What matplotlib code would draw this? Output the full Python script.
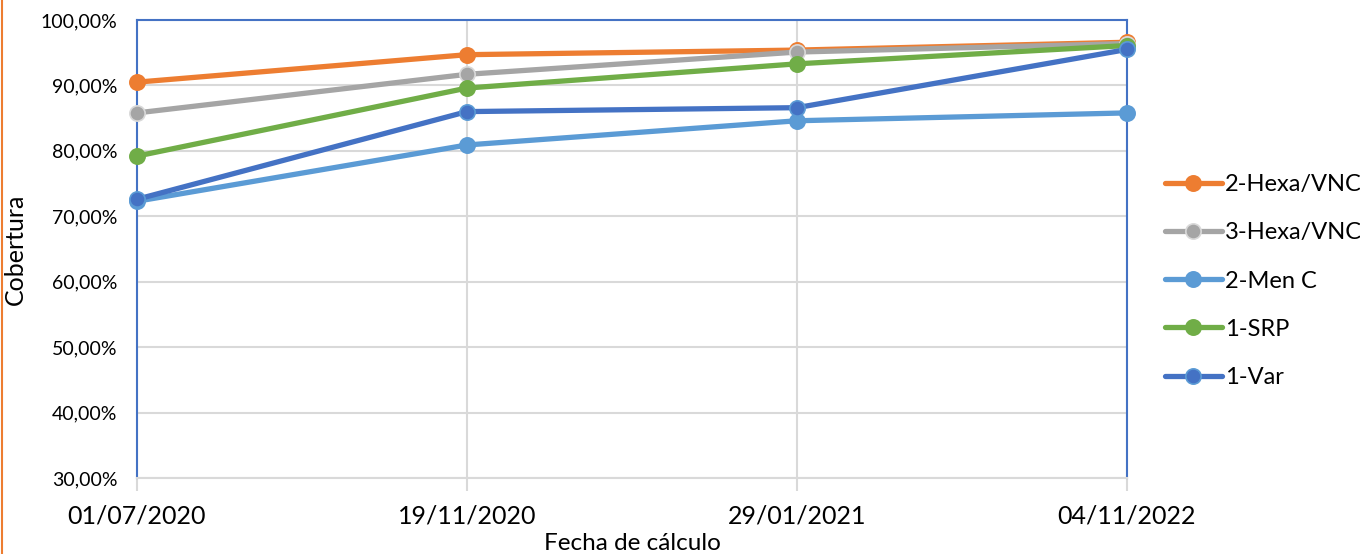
import matplotlib
matplotlib.use("Agg")
import matplotlib.pyplot as plt
from matplotlib.lines import Line2D

plt.rcParams['font.family'] = ['Lato', 'DejaVu Sans']

fechas = ["01/07/2020", "19/11/2020", "29/01/2021", "04/11/2022"]
series = ["2-Hexa/VNC", "3-Hexa/VNC", "2-Men C", "1-SRP", "1-Var"]
hexa2 = [90.5, 94.7, 95.4, 96.6]
hexa3 = [85.8, 91.7, 95.1, 96.4]
menc2 = [72.3, 80.9, 84.6, 85.8]
srp1 = [79.2, 89.6, 93.3, 96.1]
var1 = [72.6, 86.0, 86.6, 95.5]
valores = [hexa2, hexa3, menc2, srp1, var1]

colores = ["#ED7D31", "#A5A5A5", "#5B9BD5", "#70AD47", "#4472C4"]
bordes = ["#ED7D31", "#D9D9D9", "#5B9BD5", "#70AD47", "#5B9BD5"]

fig = plt.figure(figsize=(13.6, 5.54), dpi=100)
ax = fig.add_axes([137 / 1360, 1 - 478 / 554, 990 / 1360, 458 / 554])

x = list(range(len(fechas)))
for nombre, vals, c, b in zip(series, valores, colores, bordes):
    ax.plot(x, vals, color=c, lw=3.8, marker="o", ms=11, mfc=c, mec=b,
            mew=1.2, label=nombre, solid_capstyle="round", clip_on=False, zorder=3)

ax.set_xlim(0, 3)
ax.set_ylim(30, 100)
ax.set_yticks(range(30, 101, 10))
ax.set_yticklabels([f"{v},00%" for v in range(30, 101, 10)])
ax.set_xticks(x)
ax.set_xticklabels(fechas)
ax.grid(True, color="#D9D9D9", lw=1.5, zorder=0)
ax.tick_params(axis="y", length=0, labelsize=14, pad=14)
ax.tick_params(axis="x", length=9, width=1.5, color="#D9D9D9", labelsize=18, pad=10)

for s in ["left", "top", "right"]:
    ax.spines[s].set_color("#4472C4")
    ax.spines[s].set_linewidth(1.5)
ax.spines["bottom"].set_color("#D9D9D9")
ax.spines["bottom"].set_linewidth(1.5)

ax.set_xlabel("Fecha de cálculo", fontsize=17.5, labelpad=4)
ax.set_ylabel("Cobertura", fontsize=18, labelpad=10)

fig.legend(loc="center left", bbox_to_anchor=(1165 / 1360, 1 - 281 / 554),
           frameon=False, fontsize=17, handlelength=2.4, handletextpad=0.15,
           labelspacing=1.15, borderpad=0, borderaxespad=0)

fig.add_artist(Line2D([1.5 / 1360, 1.5 / 1360], [0, 1], color="#ED7D31", lw=1.5))

fig.savefig("out.png", dpi=100)
